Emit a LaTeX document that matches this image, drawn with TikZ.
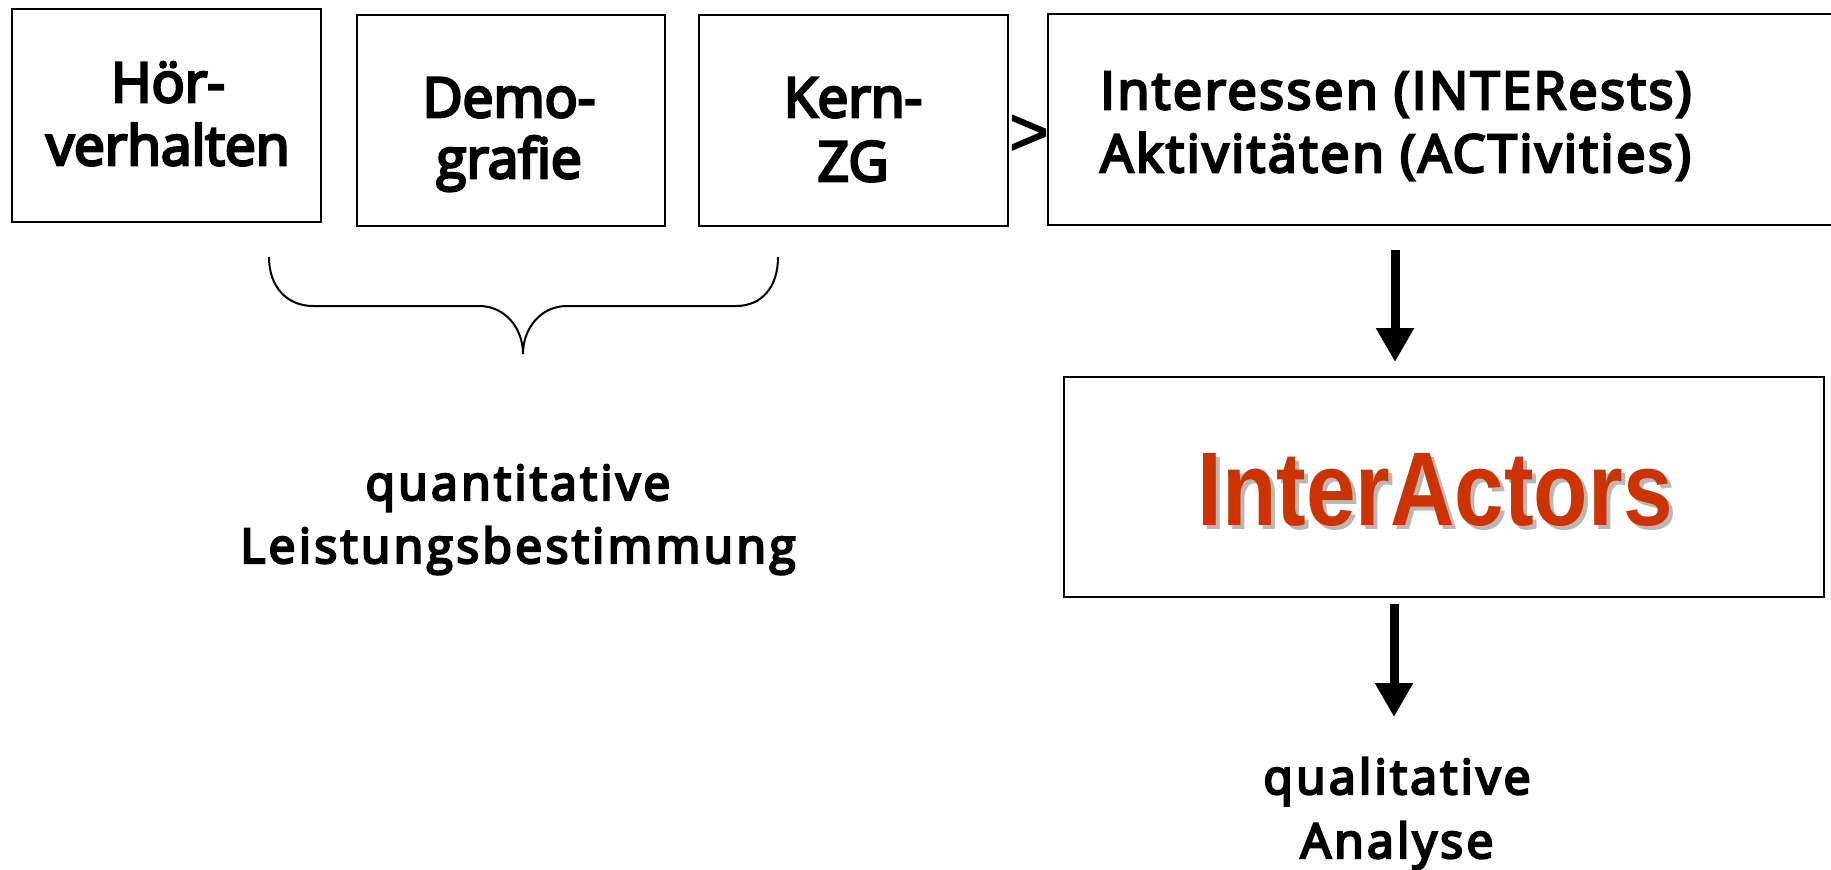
\documentclass[tikz,border=0pt]{standalone}
\usepackage{fontspec}
\usetikzlibrary{arrows.meta}
\newfontfamily\boxfont{Open Sans}[FakeBold=5]
\newfontfamily\wideboxfont{Open Sans}[FakeBold=5,LetterSpace=5]
\newfontfamily\lowfont{Open Sans}[FakeBold=5,LetterSpace=7]
\newfontfamily\gtfont{Liberation Sans}[FakeBold=2]
\newfontfamily\iafont{Liberation Sans Bold}[FakeStretch=0.85]
\definecolor{iared}{HTML}{CC3300}
\definecolor{iashadow}{HTML}{B8B8B8}
\begin{document}
\begin{tikzpicture}[x=0.5pt,y=-0.5pt,
  boxs/.style={draw, line width=1.2pt, inner sep=0pt, anchor=north west},
  btxt/.style={anchor=base, inner sep=0pt, font=\boxfont\fontsize{27.5}{31}\selectfont},
  itxt/.style={anchor=base west, inner sep=0pt, font=\wideboxfont\fontsize{26}{31}\selectfont},
  ltxt/.style={anchor=base, inner sep=0pt, font=\lowfont\fontsize{24}{28}\selectfont},
  iatxt/.style={anchor=base, inner sep=0pt, font=\iafont\fontsize{52.4}{60}\selectfont},
  bigarrow/.style={line width=4.5pt, -{Triangle[width=18pt,length=17pt]}},
  bracestyle/.style={line width=1pt}]
\useasboundingbox (0,0) rectangle (1831,869);
\clip (0,0) rectangle (1831,869);
% boxes
\node[boxs, minimum width=154.5pt, minimum height=106.5pt] (b1) at (11,8) {};
\node[boxs, minimum width=154pt, minimum height=105.5pt] (b2) at (356,14) {};
\node[boxs, minimum width=154.5pt, minimum height=105.5pt] (b3) at (698,14) {};
\node[boxs, minimum width=400pt, minimum height=105.5pt] (b4) at (1047,13) {};
\node[boxs, minimum width=380pt, minimum height=110pt] (b5) at (1063,376) {};
% box texts
\node[btxt] (t1a) at (168,102) {Hör-};
\node[btxt] (t1b) at (168,165) {verhalten};
\node[btxt] (t2a) at (509,117) {Demo-};
\node[btxt] (t2b) at (509,178) {grafie};
\node[btxt] (t3a) at (853,117) {Kern-};
\node[btxt] (t3b) at (853,181) {ZG};
\node[anchor=base, inner sep=0pt, font=\gtfont\fontsize{34}{40}\selectfont] (gt) at (1029,155) {>};
\node[itxt] (t4a) at (1100,109) {Interessen (INTERests)};
\node[itxt] (t4b) at (1100,172) {Aktivitäten (ACTivities)};
% InterActors
\node[iatxt, text=iashadow] (iash) at (1439,529) {InterActors};
\node[iatxt, text=iared] (ia) at (1435,525) {InterActors};
% lower texts
\node[ltxt] (q1) at (518,500) {quantitative};
\node[ltxt] (q2) at (518,563) {Leistungsbestimmung};
\node[ltxt] (ql1) at (1397,794) {qualitative};
\node[ltxt] (ql2) at (1397,858) {Analyse};
% brace
\draw[bracestyle] (269,257) .. controls (269,288) and (288,306) .. (313,306)
  -- (479,306) .. controls (505,306) and (523,328) .. (523,354)
  .. controls (523,328) and (541,306) .. (567,306)
  -- (736,306) .. controls (761,306) and (778,288) .. (778,257);
% arrows
\coordinate (ax1) at (1395,0);
\coordinate (ax2) at (1394,0);
\coordinate (a2e) at (1394,717);
\draw[bigarrow, shorten <=12pt, shorten >=7pt] (b4.south -| ax1) -- (b5.north -| ax1);
\draw[bigarrow, shorten <=3pt] (b5.south -| ax2) -- (a2e);
\end{tikzpicture}
\end{document}
